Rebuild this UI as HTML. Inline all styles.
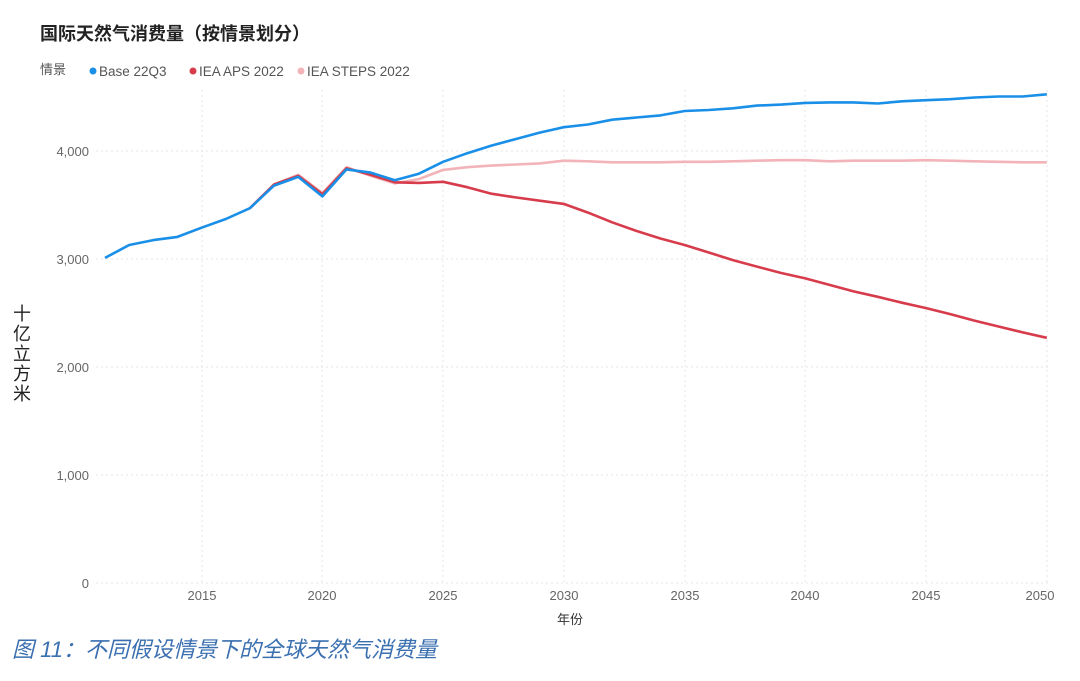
<!DOCTYPE html>
<html><head><meta charset="utf-8">
<style>
body{margin:0;background:#fff;width:1080px;height:676px;overflow:hidden;font-family:"Liberation Sans","Noto Sans CJK SC",sans-serif;}
</style></head><body>
<svg id="s" width="1080" height="676" xmlns="http://www.w3.org/2000/svg" font-family="Liberation Sans, Noto Sans CJK SC, sans-serif">
<text x="40" y="40" font-size="18" font-weight="bold" fill="#222">国际天然气消费量（按情景划分）</text>
<text x="40" y="74" font-size="13" fill="#555">情景</text>
<circle cx="93" cy="71" r="3.5" fill="#1a8fe8"/><text x="99" y="76" font-size="13.5" fill="#555">Base 22Q3</text>
<circle cx="193" cy="71" r="3.5" fill="#d73c4c"/><text x="199" y="76" font-size="13.5" fill="#555">IEA APS 2022</text>
<circle cx="301" cy="71" r="3.5" fill="#f2b4b8"/><text x="307" y="76" font-size="13.5" fill="#555">IEA STEPS 2022</text>
<g font-size="13" fill="#666" text-anchor="end">
<text x="89" y="588">0</text><text x="89" y="480">1,000</text><text x="89" y="372">2,000</text><text x="89" y="264">3,000</text><text x="89" y="156">4,000</text>
</g>
<g stroke="#e6e6e6" stroke-dasharray="2,3" stroke-width="1">
<line x1="96" x2="1050" y1="475" y2="475"/><line x1="96" x2="1050" y1="367" y2="367"/><line x1="96" x2="1050" y1="259" y2="259"/><line x1="96" x2="1050" y1="151" y2="151"/><line x1="96" x2="1050" y1="583" y2="583"/>
<line x1="202" x2="202" y1="90" y2="583"/><line x1="322" x2="322" y1="90" y2="583"/><line x1="443" x2="443" y1="90" y2="583"/><line x1="564" x2="564" y1="90" y2="583"/><line x1="685" x2="685" y1="90" y2="583"/><line x1="805" x2="805" y1="90" y2="583"/><line x1="926" x2="926" y1="90" y2="583"/><line x1="1047" x2="1047" y1="90" y2="583"/>
</g>
<g font-size="13" fill="#666" text-anchor="middle">
<text x="202" y="600">2015</text><text x="322" y="600">2020</text><text x="443" y="600">2025</text><text x="564" y="600">2030</text><text x="685" y="600">2035</text><text x="805" y="600">2040</text><text x="926" y="600">2045</text><text x="1040" y="600">2050</text>
</g>
<text x="570" y="624" font-size="13" fill="#333" text-anchor="middle">年份</text>
<g font-size="18" fill="#222" text-anchor="middle">
<text x="22" y="320">十</text><text x="22" y="340">亿</text><text x="22" y="360">立</text><text x="22" y="380">方</text><text x="22" y="400">米</text>
</g>
<text x="12" y="657" font-size="22" font-style="italic" fill="#3a6fb0">图 11：不同假设情景下的全球天然气消费量</text>
</svg>
<script>
var X=function(y){return 105+(y-2011)*24.15},Y=function(v){return 583-v*0.108};
function pl(start,arr,col){var p=arr.map(function(v,i){return X(start+i).toFixed(1)+","+Y(v).toFixed(1)}).join(" ");
var e=document.createElementNS("http://www.w3.org/2000/svg","polyline");e.setAttribute("points",p);e.setAttribute("fill","none");e.setAttribute("stroke",col);e.setAttribute("stroke-width","2.6");e.setAttribute("stroke-linejoin","round");document.getElementById("s").appendChild(e);}
pl(2017,[3470,3690,3780,3610,3850,3770,3700,3740,3825,3850,3865,3875,3885,3910,3905,3895,3895,3895,3900,3900,3905,3910,3915,3915,3905,3910,3910,3910,3915,3910,3905,3900,3895,3895],"#f2b4b8");
pl(2017,[3470,3690,3770,3600,3840,3780,3710,3705,3715,3665,3605,3570,3540,3510,3430,3340,3260,3190,3130,3060,2990,2930,2870,2820,2760,2700,2650,2595,2545,2490,2430,2375,2320,2270],"#d73c4c");
pl(2011,[3010,3130,3175,3205,3290,3370,3470,3680,3760,3580,3830,3800,3730,3790,3900,3980,4050,4110,4170,4220,4245,4290,4310,4330,4370,4380,4395,4420,4430,4445,4450,4450,4440,4460,4470,4480,4495,4505,4505,4525],"#1a8fe8");
</script>
</body></html>
